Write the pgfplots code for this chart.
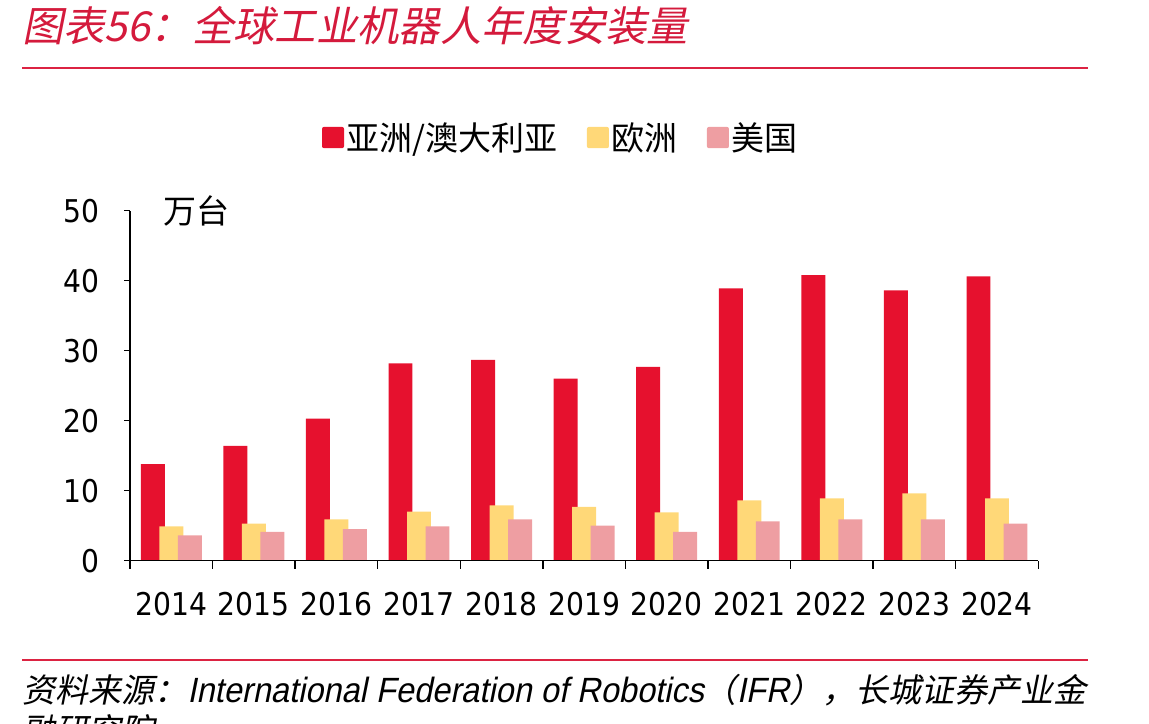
\documentclass[border=0pt]{standalone}
\usepackage{fontspec}
\usepackage{pgfplots}
\usepackage{pgfplotstable}
\pgfplotsset{compat=1.18}

\setmainfont{Noto Sans CJK SC}
\newfontfamily\cjk{Noto Sans CJK SC}
\newfontfamily\cjkit[FakeSlant=0.2]{Noto Sans CJK SC}
\newfontfamily\latit[FakeSlant=0.2, FakeStretch=0.93]{Liberation Sans}
\newfontfamily\numfont{DejaVu Sans Condensed}

\definecolor{asia}{HTML}{E6112E}
\definecolor{europe}{HTML}{FFD878}
\definecolor{usa}{HTML}{EE9EA2}
\definecolor{titlered}{HTML}{D41A3C}
\definecolor{rulered}{HTML}{DC2342}

% annual installations, 10k units
\pgfplotstableread{
x  year  asia  europe  usa
0  2014  13.8  4.9  3.6
1  2015  16.4  5.3  4.1
2  2016  20.3  5.9  4.5
3  2017  28.2  7.0  4.9
4  2018  28.7  7.9  5.9
5  2019  26.0  7.7  5.0
6  2020  27.7  6.9  4.1
7  2021  38.9  8.6  5.6
8  2022  40.8  8.9  5.9
9  2023  38.6  9.6  5.9
10 2024  40.6  8.9  5.3
}\installs

\pgfplotsset{
  sqlegend/.style={legend image code/.code={%
    \fill[##1, rounded corners=1.5pt] (0pt,-8pt) rectangle (16.5pt,8pt);}},
}

\begin{document}
\begin{tikzpicture}[x=0.75pt,y=0.75pt]
\path[use as bounding box] (0,0) rectangle (1149,724);

% title and rules
\node[anchor=base west, inner sep=0, text=titlered,
      font=\cjkit\fontsize{31}{31}\selectfont] at (22,682)
  {图表56：全球工业机器人年度安装量};
\draw[rulered, line width=1.5pt] (22,656) -- (1088,656);
\draw[rulered, line width=1.5pt] (22,64) -- (1088,64);

% source
\node[anchor=base west, inner sep=0, font=\fontsize{24.75}{26}\selectfont] at (22,21.5)
  {\cjkit 资料来源：{\fontsize{26.3}{28}\selectfont\latit International Federation of Robotics}\cjkit （{\fontsize{26.3}{28}\selectfont\latit IFR}\cjkit ），长城证券产业金};
\node[anchor=base west, inner sep=0, font=\cjkit\fontsize{24.75}{26}\selectfont] at (22,-19)
  {融研究院};

\begin{axis}[
  at={(97.5pt,122.475pt)}, anchor=south west,
  scale only axis, width=681.2pt, height=262.5pt,
  xmin=-0.5, xmax=10.5, ymin=0, ymax=50,
  clip=false,
  axis x line*=bottom, axis y line*=left,
  axis line style={black, line width=1.1pt, -},
  axis on top,
  ybar, bar width=0.29,
  xtick={0,...,10},
  xticklabels={2014,2015,2016,2017,2018,2019,2020,2021,2022,2023,2024},
  minor xtick={-0.5,0.5,...,10.5},
  ytick={0,10,...,50},
  tick align=outside,
  major tick length=4.5pt, minor tick length=6pt,
  major x tick style={draw=none},
  every tick/.style={black, line width=1.1pt},
  minor x tick style={black, line width=1.1pt},
  /pgf/number format/assume math mode=true,
  tick label style={font=\numfont\fontsize{23.5}{25}\selectfont},
  xticklabel style={yshift=-16pt},
  yticklabel style={xshift=-15pt},
  legend style={at={(0.4747,1.209)}, anchor=center, draw=none, fill=none,
    font=\cjk\fontsize{24.75}{26}\selectfont,
    /tikz/every even column/.append style={column sep=20pt}},
  legend columns=3,
  legend cell align=left,
]
\addplot[draw=none, fill=asia, bar shift=-0.224, sqlegend] table[x=x, y=asia] {\installs};
\addplot[draw=none, fill=europe, bar shift=0, sqlegend] table[x=x, y=europe] {\installs};
\addplot[draw=none, fill=usa, bar shift=0.224, sqlegend] table[x=x, y=usa] {\installs};
\legend{亚洲/澳大利亚, 欧洲, 美国}
\node[font=\cjk\fontsize{24.75}{26}\selectfont, anchor=center]
  at (rel axis cs:0.0727,1.0) {万台};
\end{axis}
\end{tikzpicture}
\end{document}
